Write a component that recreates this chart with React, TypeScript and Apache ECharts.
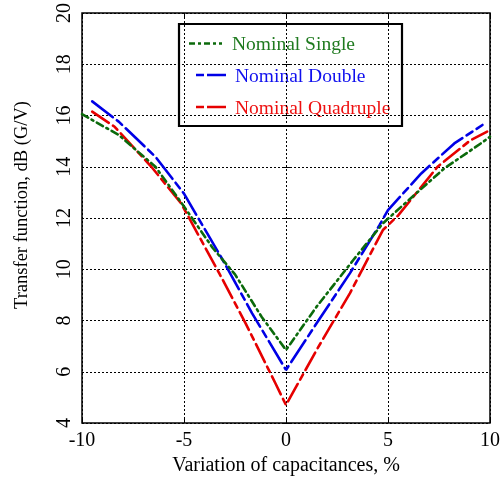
import React, { useEffect, useRef } from "react";
import * as echarts from "echarts";

const seriesNames = ["Nominal Single", "Nominal Double", "Nominal Quadruple"];

const singleX = [-10, -8.2, -6.4, -5, -3.6, -2.5, -1.2, 0, 1.5, 3.3, 4.75, 5.65, 7.75, 9.55, 10];
const singleY = [16.05, 15.24, 14.0, 12.45, 10.84, 9.8, 8.15, 6.85, 8.54, 10.36, 11.79, 12.44, 13.93, 14.91, 15.17];

const doubleX = [-9.5, -8.2, -6.4, -5, -3.1, -1.66, 0, 1.5, 3.13, 4.59, 5, 6.63, 8.25, 9.63];
const doubleY = [16.55, 15.76, 14.39, 12.95, 10.36, 8.28, 6.07, 7.89, 9.84, 11.73, 12.31, 13.74, 14.91, 15.63];

const quadX = [-9.5, -8.4, -6.6, -5.14, -3.27, -1.98, -0.52, 0, 1.5, 3.13, 4.75, 5.5, 7.43, 9.05, 9.86];
const quadY = [16.15, 15.56, 14.0, 12.57, 9.84, 7.89, 5.55, 4.7, 6.85, 9.06, 11.53, 12.1, 14.0, 15.04, 15.37];

const xTicks = [-10, -5, 0, 5, 10];
const yTicks = [4, 6, 8, 10, 12, 14, 16, 18, 20];

const lineColors = ["#0b6a0b", "#0000e6", "#e60000"];
const textColors = ["#1f7a1f", "#1010ee", "#ee1010"];
const dashes = [
  [7, 4, 2, 4],
  [26, 5, 7, 5],
  [20, 5, 6, 5],
];
const legendDashes = [
  [6, 3, 3, 3],
  [8, 3, 20, 3],
  [8, 3, 20, 3],
];

const zip = (xs: number[], ys: number[]) => xs.map((x, i) => [x, ys[i]]);

export default function App() {
  const ref = useRef<HTMLDivElement>(null);
  useEffect(() => {
    if (!ref.current) return;
    const chart = echarts.init(ref.current, null, { renderer: "svg" });
    const font = "Liberation Serif";
    const datasets = [zip(singleX, singleY), zip(doubleX, doubleY), zip(quadX, quadY)];
    const splitLine = { show: true, lineStyle: { color: "#000", type: [2, 2], width: 1 } };
    const tick = { show: true, inside: true, length: 4, lineStyle: { color: "#000" } };

    const legendBox = { x: 179, y: 24, w: 223, h: 102 };
    const rowY = [43.5, 75, 107];
    const lineX = [
      [189, 222],
      [196, 226],
      [196, 226],
    ];
    const textX = [232, 235, 235];
    const legendChildren: any[] = [
      {
        type: "rect",
        shape: { x: legendBox.x, y: legendBox.y, width: legendBox.w, height: legendBox.h },
        style: { fill: "#fff", stroke: "#000", lineWidth: 2.2 },
      },
    ];
    seriesNames.forEach((n, i) => {
      legendChildren.push({
        type: "line",
        shape: { x1: lineX[i][0], y1: rowY[i], x2: lineX[i][1], y2: rowY[i] },
        style: { stroke: lineColors[i], lineWidth: 2.6, lineDash: legendDashes[i] },
      });
      legendChildren.push({
        type: "text",
        x: textX[i],
        y: rowY[i],
        style: {
          text: n,
          fill: textColors[i],
          font: `19.5px "${font}"`,
          textVerticalAlign: "middle",
          verticalAlign: "middle",
        },
      });
    });

    chart.setOption({
      animation: false,
      textStyle: { fontFamily: font },
      grid: {
        left: 82,
        right: 10,
        top: 13,
        bottom: 62,
        show: true,
        borderColor: "#000",
        borderWidth: 1.5,
        backgroundColor: "transparent",
      },
      xAxis: [
        {
          type: "value",
          min: -10,
          max: 10,
          interval: 5,
          name: "Variation of capacitances, %",
          nameLocation: "middle",
          nameGap: 31,
          nameTextStyle: { fontFamily: font, fontSize: 20, color: "#000" },
          axisLine: { show: false },
          axisTick: tick,
          axisLabel: {
            fontFamily: font,
            fontSize: 20,
            color: "#000",
            margin: 6,
            formatter: (v: number) => (xTicks.includes(v) ? String(v) : ""),
          },
          splitLine,
        },
        {
          type: "value",
          position: "top",
          min: -10,
          max: 10,
          interval: 5,
          axisLine: { show: false },
          axisTick: tick,
          axisLabel: { show: false },
          splitLine: { show: false },
        },
      ],
      yAxis: [
        {
          type: "value",
          min: 4,
          max: 20,
          interval: 2,
          name: "Transfer function, dB (G/V)",
          nameLocation: "middle",
          nameGap: 52,
          nameTextStyle: { fontFamily: font, fontSize: 18.5, color: "#000", padding: [0, 0, 0, 26] },
          axisLine: { show: false },
          axisTick: tick,
          axisLabel: {
            fontFamily: font,
            fontSize: 20,
            color: "#000",
            rotate: 90,
            margin: 9,
            formatter: (v: number) => (yTicks.includes(v) ? String(v) : ""),
          },
          splitLine,
        },
        {
          type: "value",
          position: "right",
          min: 4,
          max: 20,
          interval: 2,
          axisLine: { show: false },
          axisTick: tick,
          axisLabel: { show: false },
          splitLine: { show: false },
        },
      ],
      series: seriesNames.map((n, i) => ({
        name: n,
        type: "line",
        data: datasets[i],
        showSymbol: false,
        symbol: "none",
        smooth: false,
        color: lineColors[i],
        lineStyle: { color: lineColors[i], width: 2.6, type: dashes[i], cap: "round" },
        z: 3 - i,
      })),
      graphic: [{ type: "group", z: 100, children: legendChildren }],
    });
    return () => chart.dispose();
  }, []);
  return (
    <div
      ref={ref}
      style={{ position: "fixed", left: 0, top: 0, width: 503, height: 485 }}
    />
  );
}
